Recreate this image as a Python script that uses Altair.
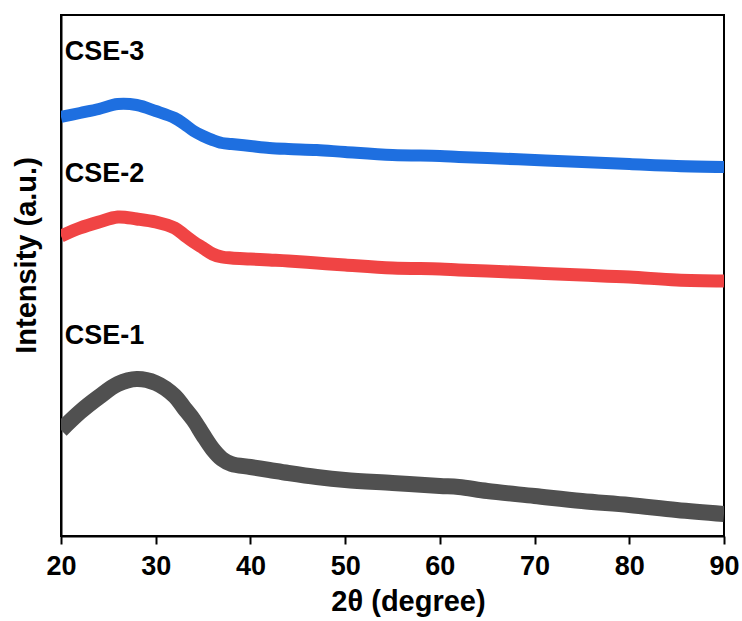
import altair as alt
import pandas as pd

# 2-theta positions (degree) at which the curves were read
two_theta = [20, 22, 24, 26, 28, 30, 32, 33, 34, 35, 36, 37, 38, 40, 42, 44,
             47, 50, 55, 60, 62, 65, 70, 75, 80, 85, 90]

# Intensity (a.u., offset stacked)
cse1 = [106, 124, 139, 152, 157, 153, 140, 128, 116, 101, 87, 77, 72, 69, 66, 63,
        59, 56, 53, 50, 49, 45, 40, 35, 31, 26, 22]
cse2 = [300, 308, 314, 319, 317, 314, 308, 301, 294, 288, 282, 279, 278, 277, 276, 275,
        273, 271, 268, 267, 266, 265, 263, 261, 259, 256, 255]
cse3 = [419, 423, 427, 432, 431, 425, 418, 412, 405, 400, 396, 393, 392, 390, 388, 387,
        386, 384, 381, 380, 379, 378, 376, 374, 372, 370, 369]

series_names = ["CSE-1", "CSE-2", "CSE-3"]
series_values = [cse1, cse2, cse3]
colors = ["#505050", "#f04444", "#1e6fe0"]
band_widths = [16, 13, 12]

label_x = [20.4, 20.4, 20.4]
label_y = [200, 362, 484]

x_ticks = [20, 30, 40, 50, 60, 70, 80, 90]

FONT = "Liberation Sans"

rows = []
for name, vals in zip(series_names, series_values):
    for t, v in zip(two_theta, vals):
        rows.append({"two_theta": t, "intensity": v, "sample": name})
df = pd.DataFrame(rows)

labels_df = pd.DataFrame({"x": label_x, "y": label_y, "text": series_names})

x_enc = alt.X(
    "two_theta:Q",
    scale=alt.Scale(domain=[20, 90], nice=False, zero=False),
    axis=alt.Axis(
        values=x_ticks, title="2θ (degree)", grid=False,
        tickSize=8, tickWidth=2, tickColor="black",
        domainColor="black", domainWidth=2,
        labelFont=FONT, labelFontSize=27, labelFontWeight="bold", labelColor="black",
        labelPadding=9, labelFlush=False, labelOverlap=False,
        titleFont=FONT, titleFontSize=29, titleFontWeight="bold", titleColor="black",
        titlePadding=8, titleX=347,
    ),
)
y_enc = alt.Y(
    "intensity:Q",
    scale=alt.Scale(domain=[0, 521], nice=False, zero=False),
    axis=alt.Axis(
        labels=False, ticks=False, grid=False, title="Intensity (a.u.)",
        domainColor="black", domainWidth=2,
        titleFont=FONT, titleFontSize=29, titleFontWeight="bold", titleColor="black",
        titlePadding=20, titleY=240,
    ),
)

layers = []
for name, col, w in zip(series_names, colors, band_widths):
    layers.append(
        alt.Chart(df)
        .transform_filter(alt.datum.sample == name)
        .mark_line(interpolate="catmull-rom", color=col, strokeWidth=w, clip=True)
        .encode(x=x_enc, y=y_enc)
    )

text = alt.Chart(labels_df).mark_text(
    align="left", baseline="middle", font=FONT, fontSize=27, fontWeight="bold", color="black"
).encode(
    x=alt.X("x:Q"),
    y=alt.Y("y:Q"),
    text="text:N",
)

chart = alt.layer(*layers, text).properties(
    width=663, height=521,
    autosize=alt.AutoSizeParams(type="none"),
    padding={"left": 61, "top": 15, "right": 18, "bottom": 85},
).configure_view(stroke="black", strokeWidth=2)

chart.save("out.html", embed_options={"renderer": "svg", "actions": False})
